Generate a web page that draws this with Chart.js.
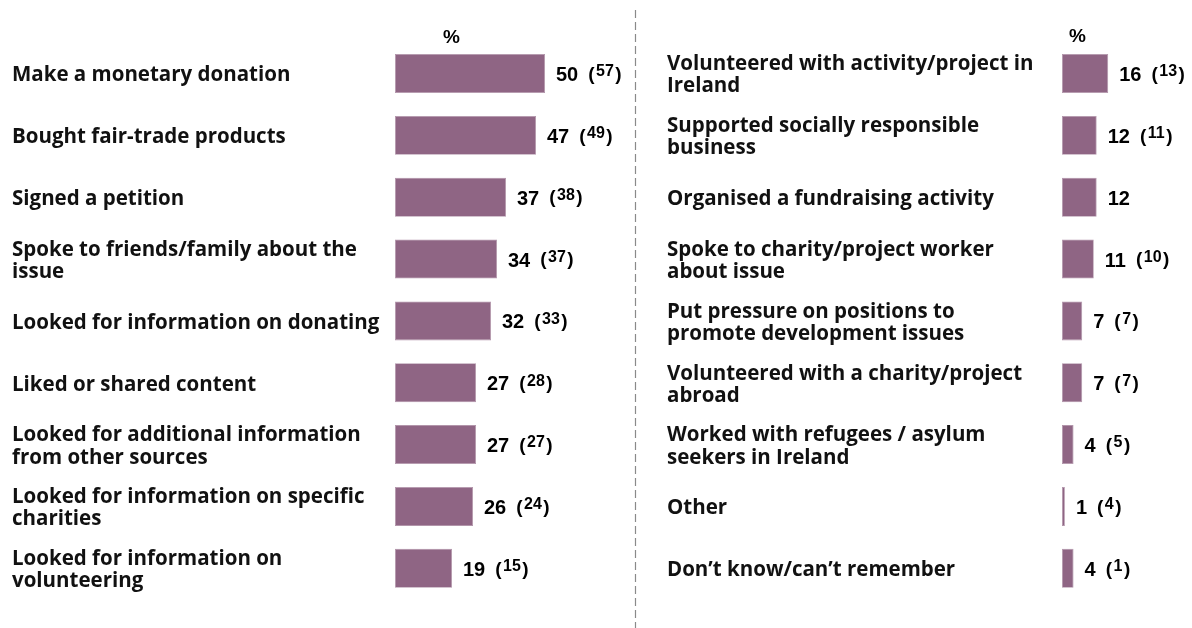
<!DOCTYPE html>
<html>
<head>
<meta charset="utf-8">
<script src="https://cdn.jsdelivr.net/npm/chart.js@4.4.1/dist/chart.umd.min.js"></script>
<style>
  html, body { margin: 0; padding: 0; background: #fff; }
  #wrap { position: relative; width: 1192px; height: 628px; overflow: hidden; }
  #c1 { position: absolute; left: 0; top: 0; }
  #c2 { position: absolute; left: 640px; top: 0; }
  .pct { position: absolute; font: bold 19px "Liberation Sans", Arial, sans-serif; color: #000; }
</style>
</head>
<body>
<div id="wrap">
  <canvas id="c1" width="640" height="628"></canvas>
  <canvas id="c2" width="552" height="628"></canvas>
  <div class="pct" style="left:443px; top:26px;">%</div>
  <div class="pct" style="left:1069px; top:25px;">%</div>
</div>
<script>
const leftCategories = [
  "Make a monetary donation",
  "Bought fair-trade products",
  "Signed a petition",
  ["Spoke to friends/family about the", "issue"],
  "Looked for information on donating",
  "Liked or shared content",
  ["Looked for additional information", "from other sources"],
  ["Looked for information on specific", "charities"],
  ["Looked for information on", "volunteering"]
];
const leftValues = [50, 47, 37, 34, 32, 27, 27, 26, 19];
const leftPrevious = [57, 49, 38, 37, 33, 28, 27, 24, 15];

const rightCategories = [
  ["Volunteered with activity/project in", "Ireland"],
  ["Supported socially responsible", "business"],
  "Organised a fundraising activity",
  ["Spoke to charity/project worker", "about issue"],
  ["Put pressure on positions to", "promote development issues"],
  ["Volunteered with a charity/project", "abroad"],
  ["Worked with refugees / asylum", "seekers in Ireland"],
  "Other",
  "Don’t know/can’t remember"
];
const rightValues = [16, 12, 12, 11, 7, 7, 4, 1, 4];
const rightPrevious = [13, 11, null, 10, 7, 7, 5, 4, 1];

const BAR_COLOR = '#8f6584';
const LABEL_FONT = '"Open Sans", "Liberation Sans", Arial, sans-serif';
const NUM_FONT = '"Liberation Sans", Arial, sans-serif';

function valueLabelPlugin(prev, dashed) {
  return {
    id: 'valueLabels',
    afterDatasetsDraw(chart) {
      const ctx = chart.ctx;
      const meta = chart.getDatasetMeta(0);
      const vals = chart.data.datasets[0].data;
      ctx.save();
      ctx.fillStyle = '#000';
      ctx.textBaseline = 'middle';
      ctx.textAlign = 'left';
      meta.data.forEach((bar, i) => {
        const x0 = bar.x + 11;
        const y = bar.y + 2;
        ctx.font = 'bold 20px ' + NUM_FONT;
        const s = String(vals[i]);
        ctx.fillText(s, x0, y);
        let x = x0 + ctx.measureText(s).width + 10;
        if (prev[i] !== null && prev[i] !== undefined) {
          ctx.font = 'bold 19px ' + NUM_FONT;
          ctx.fillText('(', x, y - 1);
          x += ctx.measureText('(').width + 1.5;
          ctx.font = 'bold 16px ' + NUM_FONT;
          const p = String(prev[i]);
          ctx.fillText(p, x, y - 3.5);
          x += ctx.measureText(p).width + 1.5;
          ctx.font = 'bold 19px ' + NUM_FONT;
          ctx.fillText(')', x, y - 1);
        }
      });
      if (dashed) {
        ctx.strokeStyle = '#8a8a8a';
        ctx.lineWidth = 1.2;
        ctx.setLineDash([8, 4]);
        ctx.beginPath();
        ctx.moveTo(635.5, 10);
        ctx.lineTo(635.5, 628);
        ctx.stroke();
      }
      ctx.restore();
    }
  };
}

function makeChart(id, cats, vals, prev, opts) {
  return new Chart(document.getElementById(id), {
    type: 'bar',
    data: {
      labels: cats,
      datasets: [{
        data: vals,
        backgroundColor: BAR_COLOR,
        borderColor: '#b295aa',
        borderWidth: 0.8,
        borderSkipped: false,
        barPercentage: 0.63,
        categoryPercentage: 1.0
      }]
    },
    options: {
      indexAxis: 'y',
      responsive: false,
      animation: false,
      events: [],
      layout: { padding: { left: opts.padLeft, right: opts.padRight, top: 42.6, bottom: 28.8 } },
      plugins: { legend: { display: false }, tooltip: { enabled: false } },
      scales: {
        x: { display: false, min: 0, max: opts.max },
        y: {
          grid: { display: false, drawTicks: false },
          border: { display: false },
          ticks: {
            crossAlign: 'far',
            padding: 0,
            labelOffset: 2,
            color: '#111',
            autoSkip: false,
            font: { family: LABEL_FONT, weight: 'bold', size: 20.5, lineHeight: 1.08 }
          },
          afterFit(scale) { scale.width = opts.axisWidth; }
        }
      }
    },
    plugins: [valueLabelPlugin(prev, opts.dashed)]
  });
}

makeChart('c1', leftCategories, leftValues, leftPrevious,
  { padLeft: 12, padRight: 5, axisWidth: 383, max: 80, dashed: true });
makeChart('c2', rightCategories, rightValues, rightPrevious,
  { padLeft: 27, padRight: 0, axisWidth: 395, max: 45, dashed: false });
</script>
</body>
</html>
